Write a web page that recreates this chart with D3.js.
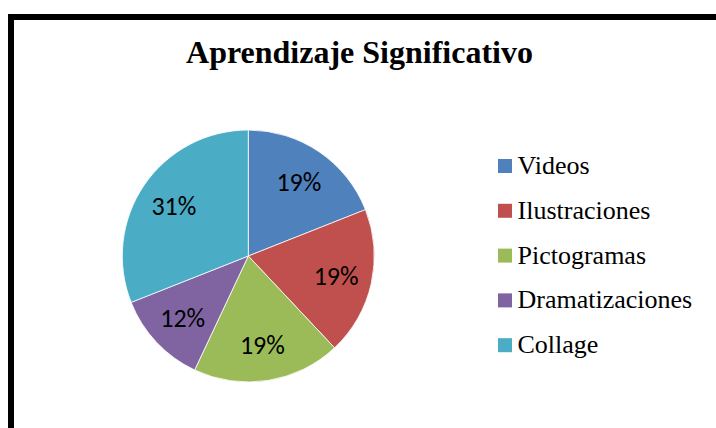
<!DOCTYPE html>
<html><head><meta charset="utf-8">
<script src="https://cdn.jsdelivr.net/npm/d3@7"></script>
<style>html,body{margin:0;padding:0;background:#fff;}svg{display:block;}</style>
</head><body>
<svg id="c" width="716" height="428"></svg>
<script>
const categories = ["Videos", "Ilustraciones", "Pictogramas", "Dramatizaciones", "Collage"];
const values = [19, 19, 19, 12, 31];
const colors = ["#4F81BD", "#C0504D", "#9BBB59", "#8064A2", "#4BACC6"];
const title = "Aprendizaje Significativo";

const svg = d3.select("#c");
svg.append("rect").attr("x", 11).attr("y", 17).attr("width", 760).attr("height", 460)
  .attr("fill", "#fff").attr("stroke", "#000").attr("stroke-width", 6);

svg.append("text").attr("x", 359.5).attr("y", 63).attr("text-anchor", "middle")
  .attr("font-family", "'Liberation Serif','Times New Roman',serif").attr("font-weight", "bold")
  .attr("font-size", 32).attr("fill", "#000").text(title);

const cx = 248.3, cy = 256, r = 126;
const data = categories.map((c, i) => ({c, v: values[i], col: colors[i]}));
const pie = d3.pie().value(d => d.v).sort(null);
const arc = d3.arc().innerRadius(0).outerRadius(r);
const labelArc = d3.arc().innerRadius(90).outerRadius(90);
const total = d3.sum(values);
const g = svg.append("g").attr("transform", `translate(${cx},${cy})`);
const arcs = pie(data);
g.selectAll("path").data(arcs).join("path").attr("d", arc)
  .attr("fill", d => d.data.col).attr("stroke", "#fff").attr("stroke-width", 0.8);
g.selectAll("text").data(arcs).join("text")
  .attr("transform", d => `translate(${labelArc.centroid(d)})`)
  .attr("text-anchor", "middle").attr("dy", "0.36em")
  .attr("font-family", "Carlito, Calibri, Lato, sans-serif").attr("font-size", 26).attr("fill", "#000")
  .text(d => Math.round(d.data.v / total * 100) + "%");

const lg = svg.append("g");
const rows = lg.selectAll("g").data(data).join("g")
  .attr("transform", (d, i) => `translate(498,${174 + i * 44.8})`);
rows.append("rect").attr("x", 0).attr("y", -15).attr("width", 14).attr("height", 14).attr("fill", d => d.col);
rows.append("text").attr("x", 19.5).attr("y", 0)
  .attr("font-family", "'Liberation Serif','Times New Roman',serif").attr("font-size", 26).attr("fill", "#000")
  .text(d => d.c);
</script>
</body></html>
